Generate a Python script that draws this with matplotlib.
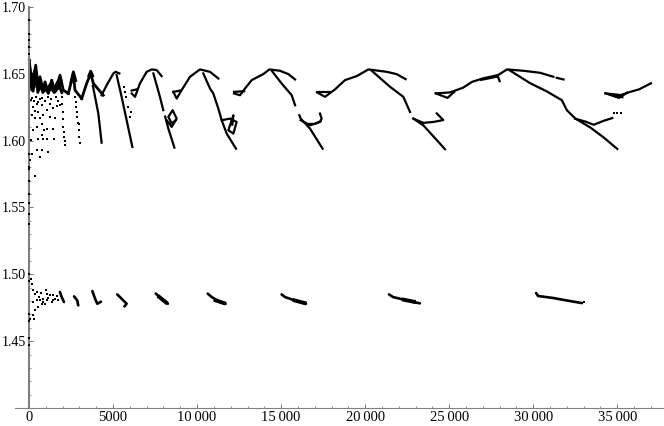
import matplotlib
matplotlib.use('Agg')
import matplotlib.pyplot as plt
from matplotlib.ticker import MultipleLocator, FuncFormatter

plt.rcParams['font.family'] = ['Liberation Serif', 'DejaVu Serif']

# dense start of the upper band, thick zigzags
block_strokes = [
    ([20, 160, 400, 555, 655, 853, 950, 1150, 1350, 1547, 1845, 2040, 2340],
     [1.6603, 1.6378, 1.6565, 1.6378, 1.6478, 1.6365, 1.644, 1.6353, 1.6453, 1.6365, 1.649, 1.6378, 1.6353]),
    ([60, 250, 330, 480, 600, 760, 900, 1050, 1250, 1450, 1700, 1950],
     [1.654, 1.637, 1.652, 1.640, 1.645, 1.638, 1.642, 1.637, 1.642, 1.637, 1.644, 1.636]),
    ([40, 200, 300, 450, 520, 700, 820, 1000, 1150, 1300, 1500, 1780, 1900],
     [1.642, 1.650, 1.640, 1.651, 1.636, 1.643, 1.636, 1.641, 1.636, 1.640, 1.636, 1.640, 1.645]),
    ([2340, 2640, 2735, 3135], [1.6353, 1.6503, 1.6378, 1.6315]),
    ([2500, 2640, 2780], [1.644, 1.6515, 1.645]),
    ([3135, 3430, 3670, 3830, 4420], [1.6315, 1.6428, 1.6503, 1.6428, 1.634]),
    ([3560, 3670, 3790], [1.6485, 1.652, 1.6485]),
]

# upper band, solid strokes as (x, y) lists
upper_strokes = [
    ([3800, 4125, 4320], [1.641, 1.6203, 1.5985]),
    ([4320, 4620, 5020, 5155, 5375], [1.634, 1.6415, 1.6503, 1.6515, 1.6503]),
    ([5215, 5510, 5810, 6150], [1.649, 1.6328, 1.6153, 1.5953]),
    ([6110, 6310, 6600, 7000, 7300, 7595, 7890], [1.6353, 1.6328, 1.6428, 1.6515, 1.6533, 1.6528, 1.6483]),
    ([6110, 6450], [1.6375, 1.6385]),
    ([7400, 7790, 7990], [1.6503, 1.6328, 1.6228]),
    ([8100, 8290, 8650], [1.618, 1.609, 1.5948]),
    ([8190, 8490, 8785, 8545, 8290, 8490, 8700], [1.6153, 1.6103, 1.6165, 1.6228, 1.6178, 1.613, 1.615]),
    ([8590, 8785, 9080, 9580, 9975, 10170, 10770, 11265],
     [1.6365, 1.6315, 1.6378, 1.6478, 1.6515, 1.6533, 1.6515, 1.6465]),
    ([8590, 9000], [1.6365, 1.6375]),
    ([10370, 10770, 10965, 11265, 11465, 11760, 12315], [1.6503, 1.639, 1.6353, 1.624, 1.6153, 1.6053, 1.594]),
    ([11465, 11960, 12355, 12160, 11860, 12160, 12100], [1.6153, 1.6165, 1.614, 1.6053, 1.6078, 1.619, 1.612]),
    ([12200, 12555, 12850, 13250, 13940, 14300, 14930, 15430, 15830],
     [1.6353, 1.634, 1.639, 1.6453, 1.6498, 1.6533, 1.6523, 1.6498, 1.6458]),
    ([12200, 12800], [1.6365, 1.637]),
    ([14440, 15030, 15630, 15830], [1.6523, 1.6428, 1.634, 1.6265]),
    ([16085, 16165, 16720, 17470], [1.619, 1.6165, 1.609, 1.594]),
    ([16165, 16720, 17310, 17410, 17310], [1.6153, 1.6115, 1.614, 1.6165, 1.6203]),
    ([16500, 17000, 17350], [1.6125, 1.6125, 1.6145]),
    ([17155, 17610, 18200, 18800, 19500, 20190, 21280, 21870, 22410],
     [1.636, 1.6328, 1.6383, 1.6453, 1.6483, 1.6533, 1.6515, 1.6498, 1.646]),
    ([17155, 17910], [1.6365, 1.6365]),
    ([20390, 21480, 22270, 22670], [1.6523, 1.6403, 1.6328, 1.6215]),
    ([22870, 23460, 24450, 24750], [1.6165, 1.6115, 1.5978, 1.5936]),
    ([22870, 23460, 24060, 24650, 24260], [1.6165, 1.6133, 1.614, 1.6154, 1.6204]),
    ([24200, 25050, 25820, 26360, 27010, 27910, 28440, 29400, 30400, 31200],
     [1.6354, 1.6361, 1.6396, 1.644, 1.6466, 1.6491, 1.6533, 1.6523, 1.6508, 1.6478]),
    ([31400, 31800], [1.647, 1.6458]),
    ([24200, 24900, 25300], [1.6354, 1.632, 1.6365]),
    ([26900, 27900, 28000], [1.6455, 1.648, 1.6445]),
    ([28600, 29800, 30800, 31700, 32000, 32500, 33400, 34200, 35000],
     [1.6526, 1.6431, 1.6369, 1.6303, 1.6228, 1.6166, 1.6098, 1.6023, 1.5938]),
    ([32500, 33100, 33600, 34200, 34700], [1.6164, 1.6143, 1.6119, 1.6149, 1.6169]),
    ([34300, 35200, 35800, 36300, 37000], [1.6354, 1.6341, 1.6366, 1.6384, 1.6429]),
    ([34300, 35100, 35600], [1.6354, 1.632, 1.636]),
    ([34600, 35300], [1.6345, 1.6325]),
]

# lower band strokes
lower_strokes = [
    ([1840, 1945, 2080], [1.4868, 1.483, 1.4793]),
    ([2680, 2870, 2930], [1.4835, 1.4805, 1.4768]),
    ([3770, 3930, 4060, 4280], [1.4875, 1.4818, 1.478, 1.4795]),
    ([5250, 5610, 5810, 5680], [1.485, 1.4805, 1.478, 1.476]),
    ([7540, 7900, 8260], [1.4856, 1.4818, 1.478]),
    ([10630, 10870, 11360, 11700], [1.4856, 1.483, 1.4793, 1.478]),
    ([15030, 15230, 15930, 16480], [1.485, 1.483, 1.48, 1.478]),
    ([21420, 21660, 22490, 22850, 23260], [1.485, 1.483, 1.4805, 1.4793, 1.4783]),
    ([30170, 30290, 31180, 32190, 32900], [1.486, 1.4838, 1.4823, 1.48, 1.4785]),
]
lower_thick = [
    ([7750, 8150], [1.483, 1.479]),
    ([11100, 11600], [1.4805, 1.4785]),
    ([15800, 16400], [1.4805, 1.4785]),
    ([22300, 22900], [1.481, 1.4795]),
]

# loose points
dots_x = [100, 258, 456, 160, 357, 555, 754, 853, 1050, 1250, 1450, 1547, 1408, 1050, 754, 456, 258, 100,
          555, 754, 1050, 1487, 160, 456, 754, 655, 1150, 60, 357, 20, 853,
          200, 300, 420, 520, 640, 780, 950, 1120, 1320, 1600, 1750, 1870, 1650, 1250, 900, 650, 330,
          1945, 1975, 2000, 2020, 2040, 2070, 2100, 2130, 2160,
          2735, 2770, 2800, 2840, 2875, 2900, 2950, 2990, 3035, 3000,
          5900, 5990, 5750, 5650, 5700, 6040, 33030, 34800, 35000, 35200,
          100, 160, 258, 357, 456, 258, 456, 655, 853, 754, 555, 357, 258, 60, 318,
          1050, 1050, 1250, 1450, 1450, 950, 1350, 1010, 1550, 1650, 1750, 600, 700, 820, 1150,
          0, 0, 0, 0, 0, 0, 0, 0, 0, 0, 0, 0, 0, 0, 0, 0, 0, 0]
dots_y = [1.6303, 1.6253, 1.6278, 1.6191, 1.6166, 1.6216, 1.6266, 1.6191, 1.6228, 1.6278, 1.6241, 1.6166,
          1.6091, 1.6091, 1.6128, 1.6103, 1.6078, 1.6003, 1.6016, 1.6041, 1.6016, 1.601, 1.5903, 1.5928,
          1.5928, 1.5878, 1.5915, 1.5853, 1.5733, 1.5791, 1.6016,
          1.632, 1.630, 1.633, 1.629, 1.631, 1.632, 1.630, 1.633, 1.631, 1.633, 1.630, 1.627, 1.626, 1.618, 1.608, 1.617, 1.622,
          1.6328, 1.6278, 1.6215, 1.6165, 1.6103, 1.6065, 1.6028, 1.5995, 1.5965,
          1.6328, 1.6290, 1.6253, 1.6215, 1.6178, 1.6130, 1.6078, 1.6030, 1.5985, 1.6128,
          1.6253, 1.6178, 1.6328, 1.6403, 1.6365, 1.6215, 1.4795, 1.6205, 1.6205, 1.6205,
          1.4968, 1.493, 1.488, 1.4855, 1.4868, 1.4793, 1.4805, 1.4805, 1.4818, 1.478, 1.4755, 1.473,
          1.4693, 1.4668, 1.4668, 1.4805, 1.485, 1.4843, 1.4805, 1.4843, 1.478, 1.4793, 1.488, 1.4818, 1.4835, 1.4805,
          1.483, 1.486, 1.479, 1.482,
          1.69, 1.68, 1.675, 1.67, 1.665, 1.59, 1.58, 1.57, 1.56, 1.553, 1.545, 1.538,
          1.50, 1.495, 1.47, 1.465, 1.452, 1.447]

x_major = 5000
x_minor = 1000
y_major = 0.05
y_minor = 0.01

fig = plt.figure(figsize=(6.64, 4.26), dpi=100)
ax = fig.add_axes([15 / 664, 18 / 426, 649 / 664, 401 / 426])

for sx, sy in block_strokes:
    ax.plot(sx, sy, color='black', lw=2.0, solid_joinstyle='round')
for sx, sy in upper_strokes:
    ax.plot(sx, sy, color='black', lw=1.6, solid_joinstyle='round')
for sx, sy in lower_strokes:
    ax.plot(sx, sy, color='black', lw=1.9, solid_capstyle='round')
for sx, sy in lower_thick:
    ax.plot(sx, sy, color='black', lw=2.8)
ax.scatter(dots_x, dots_y, s=2.6, color='black', marker='s', linewidths=0, zorder=3)

ax.set_xlim(-833, 37780)
ax.set_ylim(1.40, 1.70)

ax.spines['top'].set_visible(False)
ax.spines['right'].set_visible(False)
ax.spines['left'].set_position(('data', 0))
ax.spines['left'].set_color('#808080')
ax.spines['left'].set_linewidth(1.5)
ax.spines['bottom'].set_color('#808080')
ax.spines['bottom'].set_linewidth(0.8)

ax.xaxis.set_major_locator(MultipleLocator(x_major))
ax.xaxis.set_minor_locator(MultipleLocator(x_minor))
ax.yaxis.set_major_locator(MultipleLocator(y_major))
ax.yaxis.set_minor_locator(MultipleLocator(y_minor))


def x_label(v, pos):
    if v >= 10000:
        return f'{int(v) // 1000}\u2009000'
    return f'{int(v)}'


def y_label(v, pos):
    return '' if v < 1.42 else f'{v:.2f}'


ax.xaxis.set_major_formatter(FuncFormatter(x_label))
ax.yaxis.set_major_formatter(FuncFormatter(y_label))
ax.tick_params(axis='both', which='major', direction='in', length=3, width=0.6, color='#606060',
               labelcolor='black')
ax.tick_params(axis='both', which='minor', direction='in', length=1.5, width=0.5, color='#606060')
ax.tick_params(axis='x', pad=2, labelsize=10.5)
ax.tick_params(axis='y', pad=2, labelsize=10)

fig.savefig('out.png', dpi=100)
